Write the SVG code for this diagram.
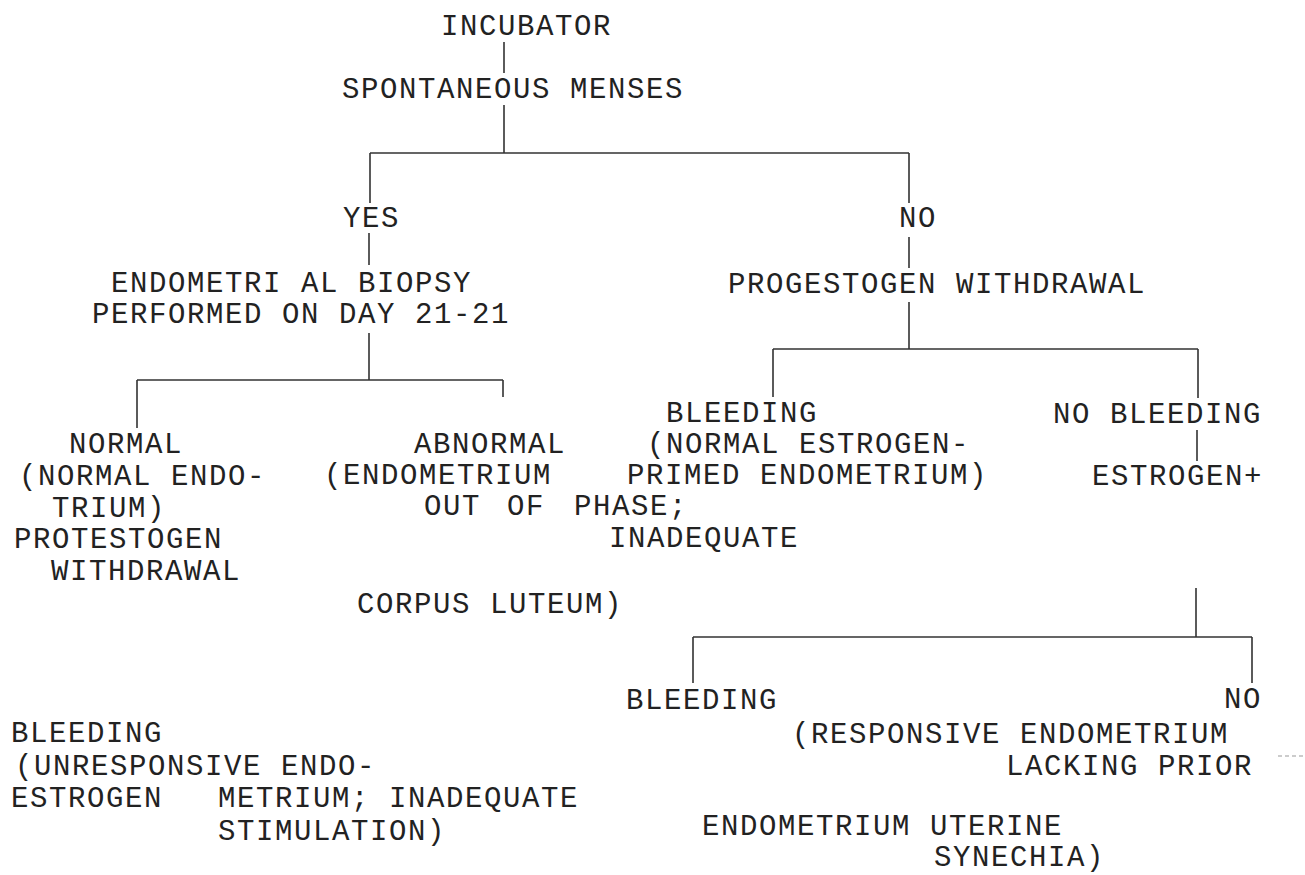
<svg xmlns="http://www.w3.org/2000/svg" width="1305" height="875" viewBox="0 0 1305 875">
<style>
text{font-family:"Liberation Mono","DejaVu Sans Mono",monospace;font-size:29px;letter-spacing:1.6px;fill:#222}
.c{fill:none;stroke:#333;stroke-width:1.6}
</style>
<rect width="1305" height="875" fill="#fff"/>
<g id="connectors" class="c">
<path d="M504 42V73"/>
<path d="M504 105V153M370 153H909M370 153V203M909 153V203"/>
<path d="M369 233V265"/>
<path d="M369 333V380M137 380H503M137 380V428M503 380V397"/>
<path d="M909 237V268"/>
<path d="M909 302V349M773 349H1198M773 349V397M1198 349V398"/>
<path d="M1197 430V461"/>
<path d="M1196 588V637M693 637H1252M693 637V683M1252 637V683"/>
</g>
<g id="n-incubator"><text x="441" y="35">INCUBATOR</text></g>
<g id="n-spontaneous"><text x="342" y="98">SPONTANEOUS MENSES</text></g>
<g id="n-yes"><text x="343" y="227">YES</text></g>
<g id="n-no"><text x="899" y="227">NO</text></g>
<g id="n-biopsy">
<text x="111" y="292">ENDOMETRI AL BIOPSY</text>
<text x="92" y="323">PERFORMED ON DAY 21-21</text>
</g>
<g id="n-progestogen"><text x="728" y="293">PROGESTOGEN WITHDRAWAL</text></g>
<g id="n-normal">
<text x="69" y="453">NORMAL</text>
<text x="19" y="485">(NORMAL ENDO-</text>
<text x="52" y="517">TRIUM)</text>
<text x="14" y="548">PROTESTOGEN</text>
<text x="51" y="580">WITHDRAWAL</text>
</g>
<g id="n-abnormal">
<text x="414" y="453">ABNORMAL</text>
<text x="324" y="484">(ENDOMETRIUM</text>
<text x="424" y="515">OUT</text>
<text x="507" y="515">OF</text>
<text x="574" y="515">PHASE;</text>
<text x="609" y="547">INADEQUATE</text>
<text x="357" y="613">CORPUS LUTEUM)</text>
</g>
<g id="n-bleeding1">
<text x="666" y="422">BLEEDING</text>
<text x="647" y="453">(NORMAL ESTROGEN-</text>
<text x="627" y="484">PRIMED ENDOMETRIUM)</text>
</g>
<g id="n-nobleeding"><text x="1053" y="423">NO BLEEDING</text></g>
<g id="n-estrogen"><text x="1092" y="485">ESTROGEN+</text></g>
<g id="n-bleeding2"><text x="626" y="709">BLEEDING</text></g>
<g id="n-no2">
<text x="1224" y="708">NO</text>
<text x="792" y="743">(RESPONSIVE ENDOMETRIUM</text>
<text x="1006" y="775">LACKING PRIOR</text>
<text x="702" y="835">ENDOMETRIUM UTERINE</text>
<text x="934" y="866">SYNECHIA)</text>
</g>
<g id="n-bleeding3">
<text x="11" y="742">BLEEDING</text>
<text x="15" y="775">(UNRESPONSIVE ENDO-</text>
<text x="11" y="807">ESTROGEN</text>
<text x="218" y="807">METRIUM; INADEQUATE</text>
<text x="218" y="840">STIMULATION)</text>
</g>
<path d="M1278 756H1304" fill="none" stroke="#999" stroke-width="1.2" stroke-dasharray="4 3"/>
</svg>
